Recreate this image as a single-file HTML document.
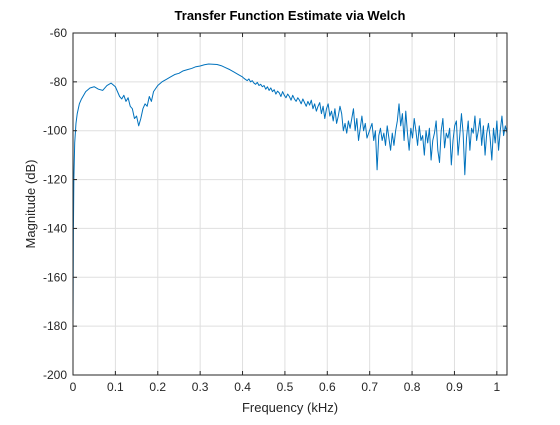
<!DOCTYPE html>
<html><head><meta charset="utf-8"><style>
body{margin:0;background:#fff;width:560px;height:420px;overflow:hidden}
text{font-family:"Liberation Sans",Arial,sans-serif}
</style></head><body>
<svg id="chart" width="560" height="420" xmlns="http://www.w3.org/2000/svg">
<rect width="560" height="420" fill="#fff"/>
<g id="grid"></g>
<path id="line" fill="none" stroke="#0072BD" stroke-width="1" stroke-linejoin="round"/>
<g id="axes"></g>
<text x="290" y="20" font-size="13" font-weight="bold" text-anchor="middle" fill="#000">Transfer Function Estimate via Welch</text>
<text x="290" y="412" font-size="13" text-anchor="middle" fill="#262626">Frequency (kHz)</text>
<text transform="translate(35,204) rotate(-90)" font-size="13" text-anchor="middle" fill="#262626">Magnitude (dB)</text>
</svg>
<script>
const xTicks=[0,0.1,0.2,0.3,0.4,0.5,0.6,0.7,0.8,0.9,1];
const xTickLabels=["0","0.1","0.2","0.3","0.4","0.5","0.6","0.7","0.8","0.9","1"];
const yTicks=[-200,-180,-160,-140,-120,-100,-80,-60];
const freqHead=[0,0.001,0.002,0.004,0.007,0.01,0.015,0.02,0.03,0.04,0.05,0.06,0.07,0.08,0.09,0.1,0.105,0.11,0.115,0.12,0.125,0.13,0.135,0.14,0.145,0.15,0.155,0.16,0.165,0.17,0.175,0.18,0.185,0.19,0.2,0.21,0.22,0.23,0.24,0.25,0.26,0.27,0.28,0.29,0.3,0.31,0.32,0.33,0.34,0.35,0.36,0.37,0.38,0.39,0.4];
const magHead=[-180,-140,-120,-105,-97,-93,-89,-87,-84,-82.5,-82,-83,-83.5,-81.5,-80.5,-82,-84,-86,-87,-85.5,-88,-86.5,-90,-91,-95,-94,-98,-95,-91,-89,-90,-86,-88,-84,-81.5,-80,-79,-78,-77,-76.5,-75.5,-75,-74.5,-73.8,-73.5,-73,-72.7,-72.8,-72.9,-73.4,-74.2,-75,-76,-77,-78];
const freqTailStart=0.403;
const freqTailEnd=1.024;
const magTail=[-78.5,-79,-79.5,-78.8,-80,-79.5,-80.5,-81,-80.2,-81.5,-81,-82,-81.5,-83,-82,-83.5,-82.5,-84,-83.2,-85,-83.8,-84.5,-86,-84,-85.5,-86.5,-85,-86,-87.5,-85.5,-87,-88,-86.5,-87.5,-89,-87,-88.5,-90,-88,-89.5,-87.5,-91,-89,-92,-90,-88.5,-93,-90,-95,-91,-89,-94,-92,-96,-91,-97,-94,-90,-93,-100,-97,-101,-96,-99,-95,-91,-100,-95,-104,-99,-94,-100,-97,-103,-101,-99,-97,-104,-100,-116,-102,-99,-104,-101,-106,-98,-103,-108,-101,-106,-100,-96,-89,-98,-93,-104,-92,-101,-108,-99,-103,-95,-100,-106,-98,-104,-102,-110,-100,-105,-99,-112,-104,-101,-96,-108,-113,-100,-95,-107,-101,-103,-99,-114,-104,-98,-96,-110,-102,-93,-101,-118,-103,-96,-108,-99,-101,-94,-104,-100,-95,-106,-98,-110,-101,-97,-103,-112,-99,-105,-96,-108,-100,-94,-102,-98,-101];
const freqs=freqHead.slice(),mags=magHead.slice();
for(let i=0;i<magTail.length;i++){freqs.push(freqTailStart+i*(freqTailEnd-freqTailStart)/(magTail.length-1));mags.push(magTail[i]);}
const L=73,R=507,T=33,B=375,xMax=1.024,yMin=-200,yMax=-60;
const X=f=>L+f/xMax*(R-L);
const Y=v=>B-(v-yMin)/(yMax-yMin)*(B-T);
const NS="http://www.w3.org/2000/svg";
function mk(tag,at,parent){const e=document.createElementNS(NS,tag);for(const k in at)e.setAttribute(k,at[k]);parent.appendChild(e);return e;}
const grid=document.getElementById('grid'),axes=document.getElementById('axes');
xTicks.forEach((t,i)=>{
 const g=mk('line',{x1:X(t),x2:X(t),y1:T,y2:B,stroke:'#dfdfdf','stroke-width':1},grid);
 
 
 const k=mk('line',{x1:X(t),x2:X(t),y1:B,y2:B-4,stroke:'#262626'},axes);
 
 
 const k2=mk('line',{x1:X(t),x2:X(t),y1:T,y2:T+4,stroke:'#262626'},axes);
 
 
 const tx=mk('text',{x:X(t),y:B+16,'font-size':12,'text-anchor':'middle',fill:'#262626'},axes);
 tx.textContent=xTickLabels[i];
 
 
});
yTicks.forEach(t=>{
 const g=mk('line',{x1:L,x2:R,y1:Y(t),y2:Y(t),stroke:'#dfdfdf','stroke-width':1},grid);
 
 
 const k=mk('line',{x1:L,x2:L+4,y1:Y(t),y2:Y(t),stroke:'#262626'},axes);
 
 
 const k2=mk('line',{x1:R,x2:R-4,y1:Y(t),y2:Y(t),stroke:'#262626'},axes);
 
 
 const tx=mk('text',{x:L-6,y:Y(t)+4,'font-size':12,'text-anchor':'end',fill:'#262626'},axes);
 tx.textContent=String(t);
 
 
});
const box=mk('rect',{x:L,y:T,width:R-L,height:B-T,fill:'none',stroke:'#262626','stroke-width':1},axes);


document.getElementById('line').setAttribute('d',freqs.map((f,i)=>(i?'L':'M')+X(f).toFixed(2)+','+Y(mags[i]).toFixed(2)).join(''));
</script>
</body></html>
